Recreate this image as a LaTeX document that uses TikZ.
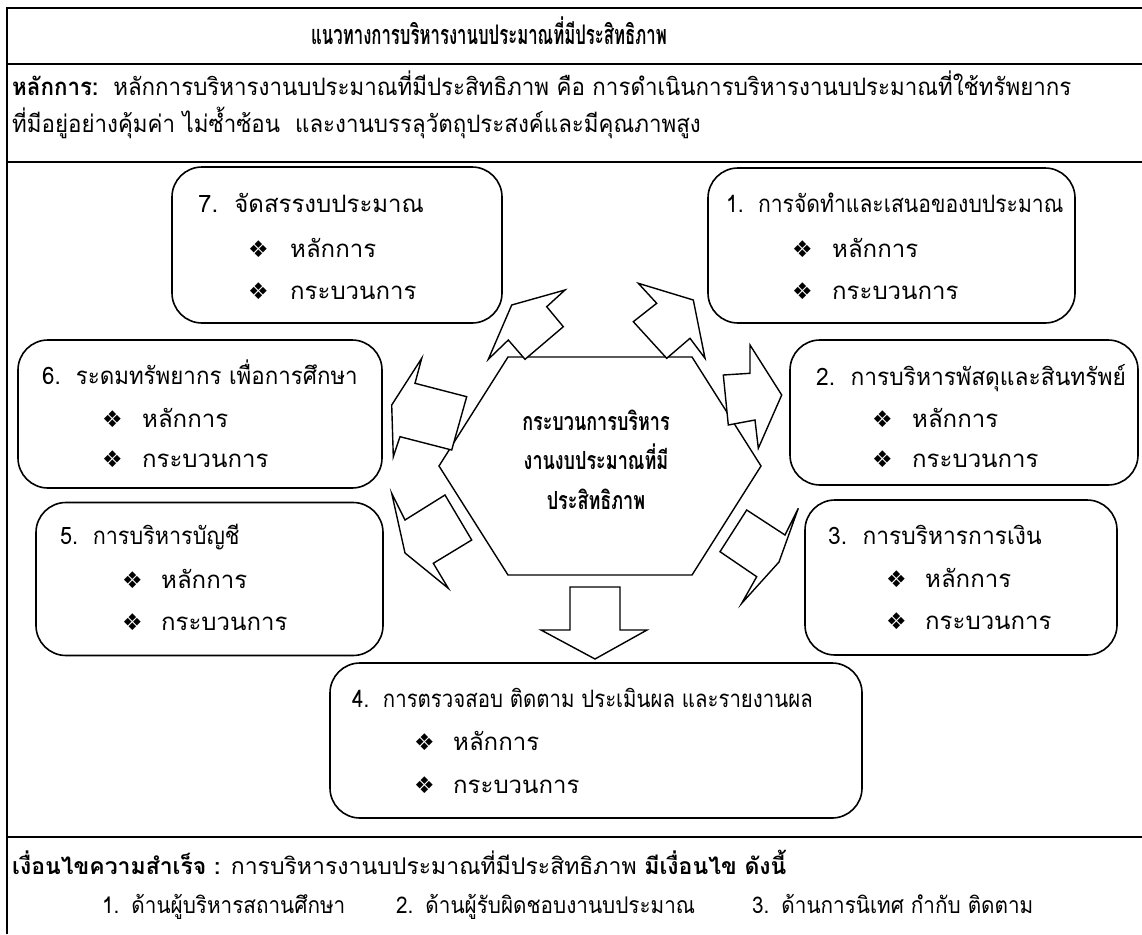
\documentclass[tikz,border=0pt]{standalone}
\usepackage{fontspec}
\newfontfamily\thai[Script=Thai]{Loma}
\newfontfamily\sym{DejaVu Sans}
\newcommand{\st}[1]{\addfontfeature{FakeStretch=#1}}
\begin{document}
\begin{tikzpicture}[x=1pt,y=-1pt,
  rbox/.style={draw, line width=1.6pt, rounded corners=30pt, inner sep=0pt},
  arr/.style={draw, line width=1.4pt, fill=white, line join=miter},
  frame/.style={line width=2pt},
  txt/.style={anchor=base west, inner sep=0pt, font=\thai\fontsize{24}{28}\selectfont},
  head/.style={anchor=base west, inner sep=0pt, font=\thai\st{0.93}\fontsize{24}{28}\selectfont},
  foot/.style={anchor=base west, inner sep=0pt, font=\thai\fontsize{23}{27}\selectfont},
  item/.style={anchor=base west, inner sep=0pt, font=\thai\st{0.9}\fontsize{23}{27}\selectfont},
  bul/.style={anchor=base west, inner sep=0pt, font=\sym\fontsize{23}{26}\selectfont},
  ctr/.style={anchor=base, inner sep=0pt, font=\thai\st{0.72}\bfseries\fontsize{25}{29}\selectfont}
]
\useasboundingbox (0,0) rectangle (1142,934);
% frame
\coordinate (ftr) at (1142,8);
\coordinate (fbl) at (7,934);
\draw[frame] (ftr) -| (fbl);
\foreach \yy/\nm in {64/a,162/b,837/c}{
  \coordinate (l\nm) at (7,\yy);
  \coordinate (r\nm) at (1142,\yy);
  \draw[frame] (l\nm) -- (r\nm);
}
% title and principle
\node[anchor=base, inner sep=0pt, font=\thai\st{0.62}\bfseries\fontsize{27}{31}\selectfont] (title) at (489,45) {แนวทางการบริหารงานบประมาณที่มีประสิทธิภาพ};
\node[head] (p1) at (12,95) {{\bfseries หลักการ:}\ \ หลักการบริหารงานบประมาณที่มีประสิทธิภาพ คือ การดำเนินการบริหารงานบประมาณที่ใช้ทรัพยากร};
\node[head] (p2) at (12,132) {ที่มีอยู่อย่างคุ้มค่า ไม่ซ้ำซ้อน\ \ และงานบรรลุวัตถุประสงค์และมีคุณภาพสูง};

% boxes
\node[rbox, minimum width=330pt, minimum height=156pt] (b7) at (337,245) {};
\node[rbox, minimum width=367pt, minimum height=155pt] (b1) at (891.5,245.5) {};
\node[rbox, minimum width=364pt, minimum height=148pt] (b6) at (200,414) {};
\node[rbox, minimum width=348pt, minimum height=145pt] (b2) at (964,412.5) {};
\node[rbox, minimum width=347pt, minimum height=153pt] (b5) at (209.5,579) {};
\node[rbox, minimum width=312pt, minimum height=155pt] (b3) at (961,577.5) {};
\node[rbox, minimum width=532pt, minimum height=155pt] (b4) at (596,740.5) {};

% box texts
\node[txt] (t7) at (198,212) {7.\ \ จัดสรรงบประมาณ};
\node[bul] (t7a) at (248,257) {❖};
\node[txt] (t7b) at (290,257) {หลักการ};
\node[bul] (t7c) at (248,299) {❖};
\node[txt] (t7d) at (290,299) {กระบวนการ};

\node[txt, font=\thai\st{0.88}\fontsize{24}{28}\selectfont] (t1) at (726,212) {1.\ \ การจัดทำและเสนอของบประมาณ};
\node[bul] (t1a) at (792,257) {❖};
\node[txt] (t1b) at (832,257) {หลักการ};
\node[bul] (t1c) at (792,299) {❖};
\node[txt] (t1d) at (832,299) {กระบวนการ};

\node[txt, font=\thai\st{0.93}\fontsize{24}{28}\selectfont] (t6) at (42,384) {6.\ \ ระดมทรัพยากร เพื่อการศึกษา};
\node[bul] (t6a) at (102,427) {❖};
\node[txt] (t6b) at (142,427) {หลักการ};
\node[bul] (t6c) at (102,467) {❖};
\node[txt] (t6d) at (142,467) {กระบวนการ};

\node[txt, font=\thai\st{0.95}\fontsize{24}{28}\selectfont] (t2) at (816,385) {2.\ \ การบริหารพัสดุและสินทรัพย์};
\node[bul] (t2a) at (872,427) {❖};
\node[txt] (t2b) at (912,427) {หลักการ};
\node[bul] (t2c) at (872,467) {❖};
\node[txt] (t2d) at (912,467) {กระบวนการ};

\node[txt, font=\thai\st{0.9}\fontsize{24}{28}\selectfont] (t5) at (60,544) {5.\ \ การบริหารบัญชี};
\node[bul] (t5a) at (122,588) {❖};
\node[txt] (t5b) at (161,588) {หลักการ};
\node[bul] (t5c) at (122,630) {❖};
\node[txt] (t5d) at (161,630) {กระบวนการ};

\node[txt, font=\thai\st{0.95}\fontsize{24}{28}\selectfont] (t3) at (828,544) {3.\ \ การบริหารการเงิน};
\node[bul] (t3a) at (886,587) {❖};
\node[txt] (t3b) at (925,587) {หลักการ};
\node[bul] (t3c) at (886,629) {❖};
\node[txt] (t3d) at (925,629) {กระบวนการ};

\node[txt, font=\thai\st{0.85}\fontsize{24}{28}\selectfont] (t4) at (352,707) {4.\ \ การตรวจสอบ ติดตาม ประเมินผล และรายงานผล};
\node[bul] (t4a) at (414,750) {❖};
\node[txt] (t4b) at (453,750) {หลักการ};
\node[bul] (t4c) at (414,793) {❖};
\node[txt] (t4d) at (453,793) {กระบวนการ};

% hexagon
\draw[line width=1.4pt, line join=miter] (508,357) -- (692,357) -- (761,466) -- (692,575) -- (508,575) -- (439,466) -- cycle;
\node[ctr] (h1) at (596,430) {กระบวนการบริหาร};
\node[ctr] (h2) at (596,469) {งานงบประมาณที่มี};
\node[ctr] (h3) at (596,509) {ประสิทธิภาพ};

% block arrows
\draw[arr] (565,290) -- (546.7,306.7) -- (563.3,326.7) -- (525,359.3) -- (508.3,340) -- (488.3,359.3) -- (511.7,305) -- cycle;
\draw[arr] (638.3,283.3) -- (656.7,303.3) -- (633.3,321.7) -- (666.7,358.3) -- (690,338.3) -- (705,358.3) -- (693.3,300) -- cycle;
\draw[arr] (750,345) -- (750,373.3) -- (723.3,375) -- (728.3,425) -- (755,420) -- (758.3,448.3) -- (781.7,395) -- cycle;
\draw[arr] (421.7,358.3) -- (415,383.3) -- (466.7,396.7) -- (451.7,450) -- (400,436.7) -- (393.3,456.7) -- (391.7,405) -- cycle;
\draw[arr] (391.7,493.3) -- (405,520) -- (445,495) -- (471.7,540) -- (433.3,563.3) -- (448.3,588.3) -- (405,553) -- cycle;
\draw[arr] (798.3,508.3) -- (785,535) -- (746.7,510) -- (720,551.7) -- (756.7,576.7) -- (741.7,603.3) -- (779,562) -- cycle;
\draw[arr] (570,587) -- (620,587) -- (620,630) -- (647,630) -- (595,659) -- (541,630) -- (570,630) -- cycle;

% success conditions
\node[foot] (c1) at (12,874) {{\bfseries เงื่อนไขความสำเร็จ :} การบริหารงานบประมาณที่มีประสิทธิภาพ {\bfseries มีเงื่อนไข ดังนี้}};
\node[item] (c2) at (102,913) {1.\hspace{12pt}ด้านผู้บริหารสถานศึกษา};
\node[item] (c3) at (396,913) {2.\hspace{12pt}ด้านผู้รับผิดชอบงานบประมาณ};
\node[item] (c4) at (752,913) {3.\hspace{12pt}ด้านการนิเทศ กำกับ ติดตาม};
\end{tikzpicture}
\end{document}
